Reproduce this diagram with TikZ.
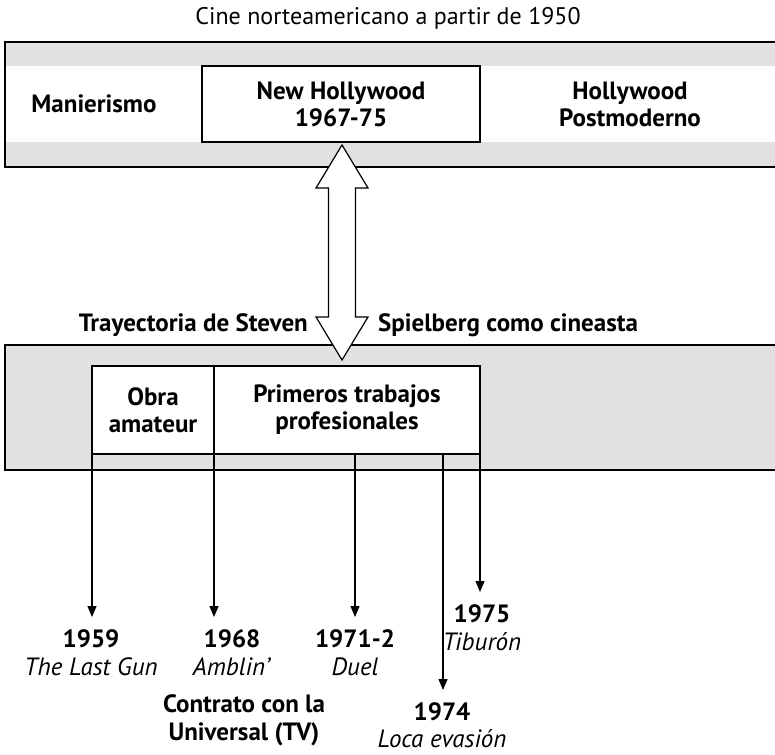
\documentclass[tikz,border=0pt]{standalone}
\usepackage{fontspec}
\setmainfont{PT Sans}
\usetikzlibrary{arrows.meta}
\definecolor{bandgrey}{RGB}{225,225,225}
\begin{document}
\begin{tikzpicture}[x=1pt,y=-1pt,
  lbl/.style={font=\fontsize{25}{27}\selectfont\bfseries,align=center,inner sep=0pt},
  period/.style={lbl,draw,fill=white,line width=1.2pt,outer sep=0pt},
  yr/.style={font=\fontsize{25}{28}\selectfont\bfseries,align=center,anchor=north,inner xsep=0pt,inner ysep=12pt},
  tl/.style={line width=1.2pt,-{Triangle[length=11pt,width=9pt]}},
  frame/.style={line width=1.3pt}]
\useasboundingbox (0,0) rectangle (775,754);
\clip (0,0) rectangle (775,754);
\node[font=\fontsize{24}{27}\selectfont,anchor=base] (title) at (388,25) {Cine norteamericano a partir de 1950};
% periodos del cine
\fill[bandgrey] (5,42) rectangle (790,167);
\fill[white] (5,66) rectangle (790,142);
\draw[frame] (5,42) rectangle (790,167);
\draw[line width=2.4pt] (5,167) -- (790,167);
\node[period,minimum width=278pt,minimum height=76pt] (nh) at (341,104) {New Hollywood\\1967-75};
\node[lbl] (man) at (94,104) {Manierismo};
\node[lbl] (post) at (630,104) {Hollywood\\Postmoderno};
% trayectoria
\fill[bandgrey] (5,345) rectangle (790,470);
\draw[frame] (5,345) rectangle (790,470);
\draw[line width=2.4pt] (5,470) -- (790,470);
\node[period,minimum width=122pt,minimum height=88pt] (obra) at (153,410) {Obra\\amateur};
\node[period,minimum width=266pt,minimum height=88pt] (prim) at (347,410) {Primeros trabajos\\profesionales};
\coordinate (up) at (342,145);
\draw[line width=1.2pt,fill=white] (up) -- ++(26,43) -- ++(-12.5,0) -- ++(0,129) -- ++(12.5,0)
  -- ++(-26,43) -- ++(-26,-43) -- ++(12.5,0) -- ++(0,-129) -- ++(-12.5,0) -- cycle;
\node[lbl,anchor=base east] (trayl) at (308,331) {Trayectoria de Steven};
\node[lbl,anchor=base west] (trayr) at (378,331) {Spielberg como cineasta};
% fechas
\node[yr] (y59) at (91,617) {1959\\\textit{\mdseries The Last Gun}};
\node[yr] (y68) at (232,617) {1968\\\textit{\mdseries Amblin'}};
\node[lbl,font=\fontsize{25}{28}\selectfont\bfseries,anchor=north] (univ) at (244,694) {Contrato con la\\Universal (TV)};
\node[yr] (y71) at (355,617) {1971-2\\\textit{\mdseries Duel}};
\node[yr,font=\fontsize{25}{27}\selectfont\bfseries] (y74) at (442,690) {1974\\\textit{\mdseries Loca evasión}};
\node[yr] (y75) at (482,592) {1975\\\textit{\mdseries Tiburón}};
\coordinate (d71) at (355,454);
\coordinate (d74) at (443,454);
\draw[tl] (obra.south west) -- (obra.south west |- y59.north);
\draw[tl] (obra.south east) -- (obra.south east |- y68.north);
\draw[tl] (d71) -- (d71 |- y71.north);
\draw[tl] (d74) -- (d74 |- y74.north);
\draw[tl] (prim.south east) -- (prim.south east |- y75.north);
\end{tikzpicture}
\end{document}
